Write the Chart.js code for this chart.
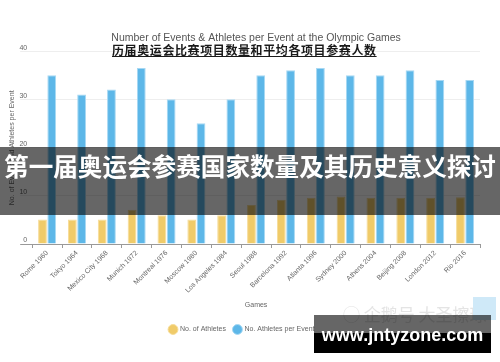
<!DOCTYPE html>
<html>
<head>
<meta charset="utf-8">
<script src="https://cdn.jsdelivr.net/npm/chart.js@4"></script>
<style>
  html, body { margin: 0; padding: 0; background: #fff; }
  #wrap { position: relative; width: 500px; height: 362px; overflow: hidden; }
  canvas { position: absolute; left: 0; top: 0; }
  .ov { position: absolute; white-space: nowrap; }
  #sub { left: 112px; top: 43px; font: bold 12px "Noto Sans CJK SC", sans-serif; color: #1a1a1a; text-decoration: underline; letter-spacing: 0.6px; line-height: 14px; }
  #banner { left: 0; top: 147px; width: 500px; height: 68px; background: rgba(0,0,0,0.6); }
  #bannerText { left: 0; top: 147px; width: 500px; height: 68px; line-height: 68px; text-align: center; color: #fff; font: bold 24.6px "Noto Sans CJK SC", sans-serif; }
  #faint { left: 343px; top: 302px; color: #e4e4e4; font: 17px "Noto Sans CJK SC", sans-serif; line-height: 24px; }
  #upbox { left: 473px; top: 297px; width: 23px; height: 23px; background: #cfe9f8; }
  #grayTop { left: 314px; top: 315px; width: 177px; height: 18px; background: rgba(0,0,0,0.6); }
  #blackBot { left: 314px; top: 333px; width: 177px; height: 20px; background: #000; }
  #wm { left: 314px; top: 322px; width: 177px; text-align: center; color: #fff; font: bold 18px "Liberation Sans", Arial, sans-serif; line-height: 26px; }
</style>
</head>
<body>
<div id="wrap">
  <canvas id="c" width="500" height="362"></canvas>
  <div class="ov" id="sub">历届奥运会比赛项目数量和平均各项目参赛人数</div>
  <div class="ov" id="banner"></div>
  <div class="ov" id="bannerText">第一届奥运会参赛国家数量及其历史意义探讨</div>
  <div class="ov" id="faint">◯ 企鹅号 大圣擦球</div>
  <div class="ov" id="upbox"></div>
  <div class="ov" id="grayTop"></div>
  <div class="ov" id="blackBot"></div>
  <div class="ov" id="wm">www.jntyzone.com</div>
</div>
<script>
const categories = ["Rome 1960","Tokyo 1964","Mexico City 1968","Munich 1972","Montreal 1976","Moscow 1980","Los Angeles 1984","Seoul 1988","Barcelona 1992","Atlanta 1996","Sydney 2000","Athens 2004","Beijing 2008","London 2012","Rio 2016"];
const athletes = [5.1, 5.1, 5.1, 7.1, 6.0, 5.1, 6.0, 8.1, 9.2, 9.6, 9.9, 9.6, 9.6, 9.6, 9.7];
const athletesPerEvent = [35.1, 31.1, 32.1, 36.6, 30.1, 25.1, 30.1, 35.1, 36.1, 36.6, 35.1, 35.1, 36.1, 34.1, 34.1];
const yTicks = [0, 10, 20, 30, 40];

Chart.defaults.font.family = '"Liberation Sans", Arial, sans-serif';
Chart.defaults.color = '#666';

new Chart(document.getElementById('c'), {
  type: 'bar',
  data: {
    labels: categories,
    datasets: [
      { label: 'No. of Athletes', data: athletes, backgroundColor: '#F0CB69', borderColor: '#F6DC98', borderWidth: 1, categoryPercentage: 0.62, barPercentage: 0.95 },
      { label: 'No. Athletes per Event', data: athletesPerEvent, backgroundColor: '#5DB7E8', borderColor: '#A6D8F3', borderWidth: 1, categoryPercentage: 0.62, barPercentage: 0.95 }
    ]
  },
  options: {
    responsive: false,
    devicePixelRatio: 1,
    animation: false,
    layout: { padding: { left: 4, right: 20, top: 0, bottom: 19 } },
    plugins: {
      title: { display: true, fullSize: false, text: 'Number of Events & Athletes per Event at the Olympic Games', color: '#555', font: { size: 10.5, weight: 'normal' }, padding: { top: 32, bottom: 7 } },
      legend: { position: 'bottom', labels: { usePointStyle: true, pointStyle: 'circle', boxWidth: 8, boxHeight: 8, padding: 8, font: { size: 7 }, color: '#666' } },
      tooltip: { enabled: false }
    },
    scales: {
      x: {
        grid: { display: true, drawOnChartArea: false, drawTicks: true, tickLength: 4, color: '#999' },
        border: { display: true, color: '#999' },
        ticks: { font: { size: 7 }, color: '#666', maxRotation: 45, minRotation: 45, autoSkip: false, padding: 1 },
        title: { display: true, text: 'Games', font: { size: 7 }, color: '#666', padding: { top: 5, bottom: 9 } }
      },
      y: {
        min: 0, max: 40,
        afterBuildTicks: (s) => { s.ticks = yTicks.map(v => ({ value: v })); },
        grid: { color: (ctx) => (ctx.tick && ctx.tick.value === 0) ? '#999' : '#eeeeee', tickLength: 12, drawTicks: true },
        border: { display: false },
        ticks: { font: { size: 7 }, color: '#666', padding: -7, labelOffset: -4 },
        title: { display: true, text: 'No. of Events and Athletes per Event', font: { size: 7 }, color: '#666', padding: { top: 4, bottom: 10 } }
      }
    }
  }
});
</script>
</body>
</html>
